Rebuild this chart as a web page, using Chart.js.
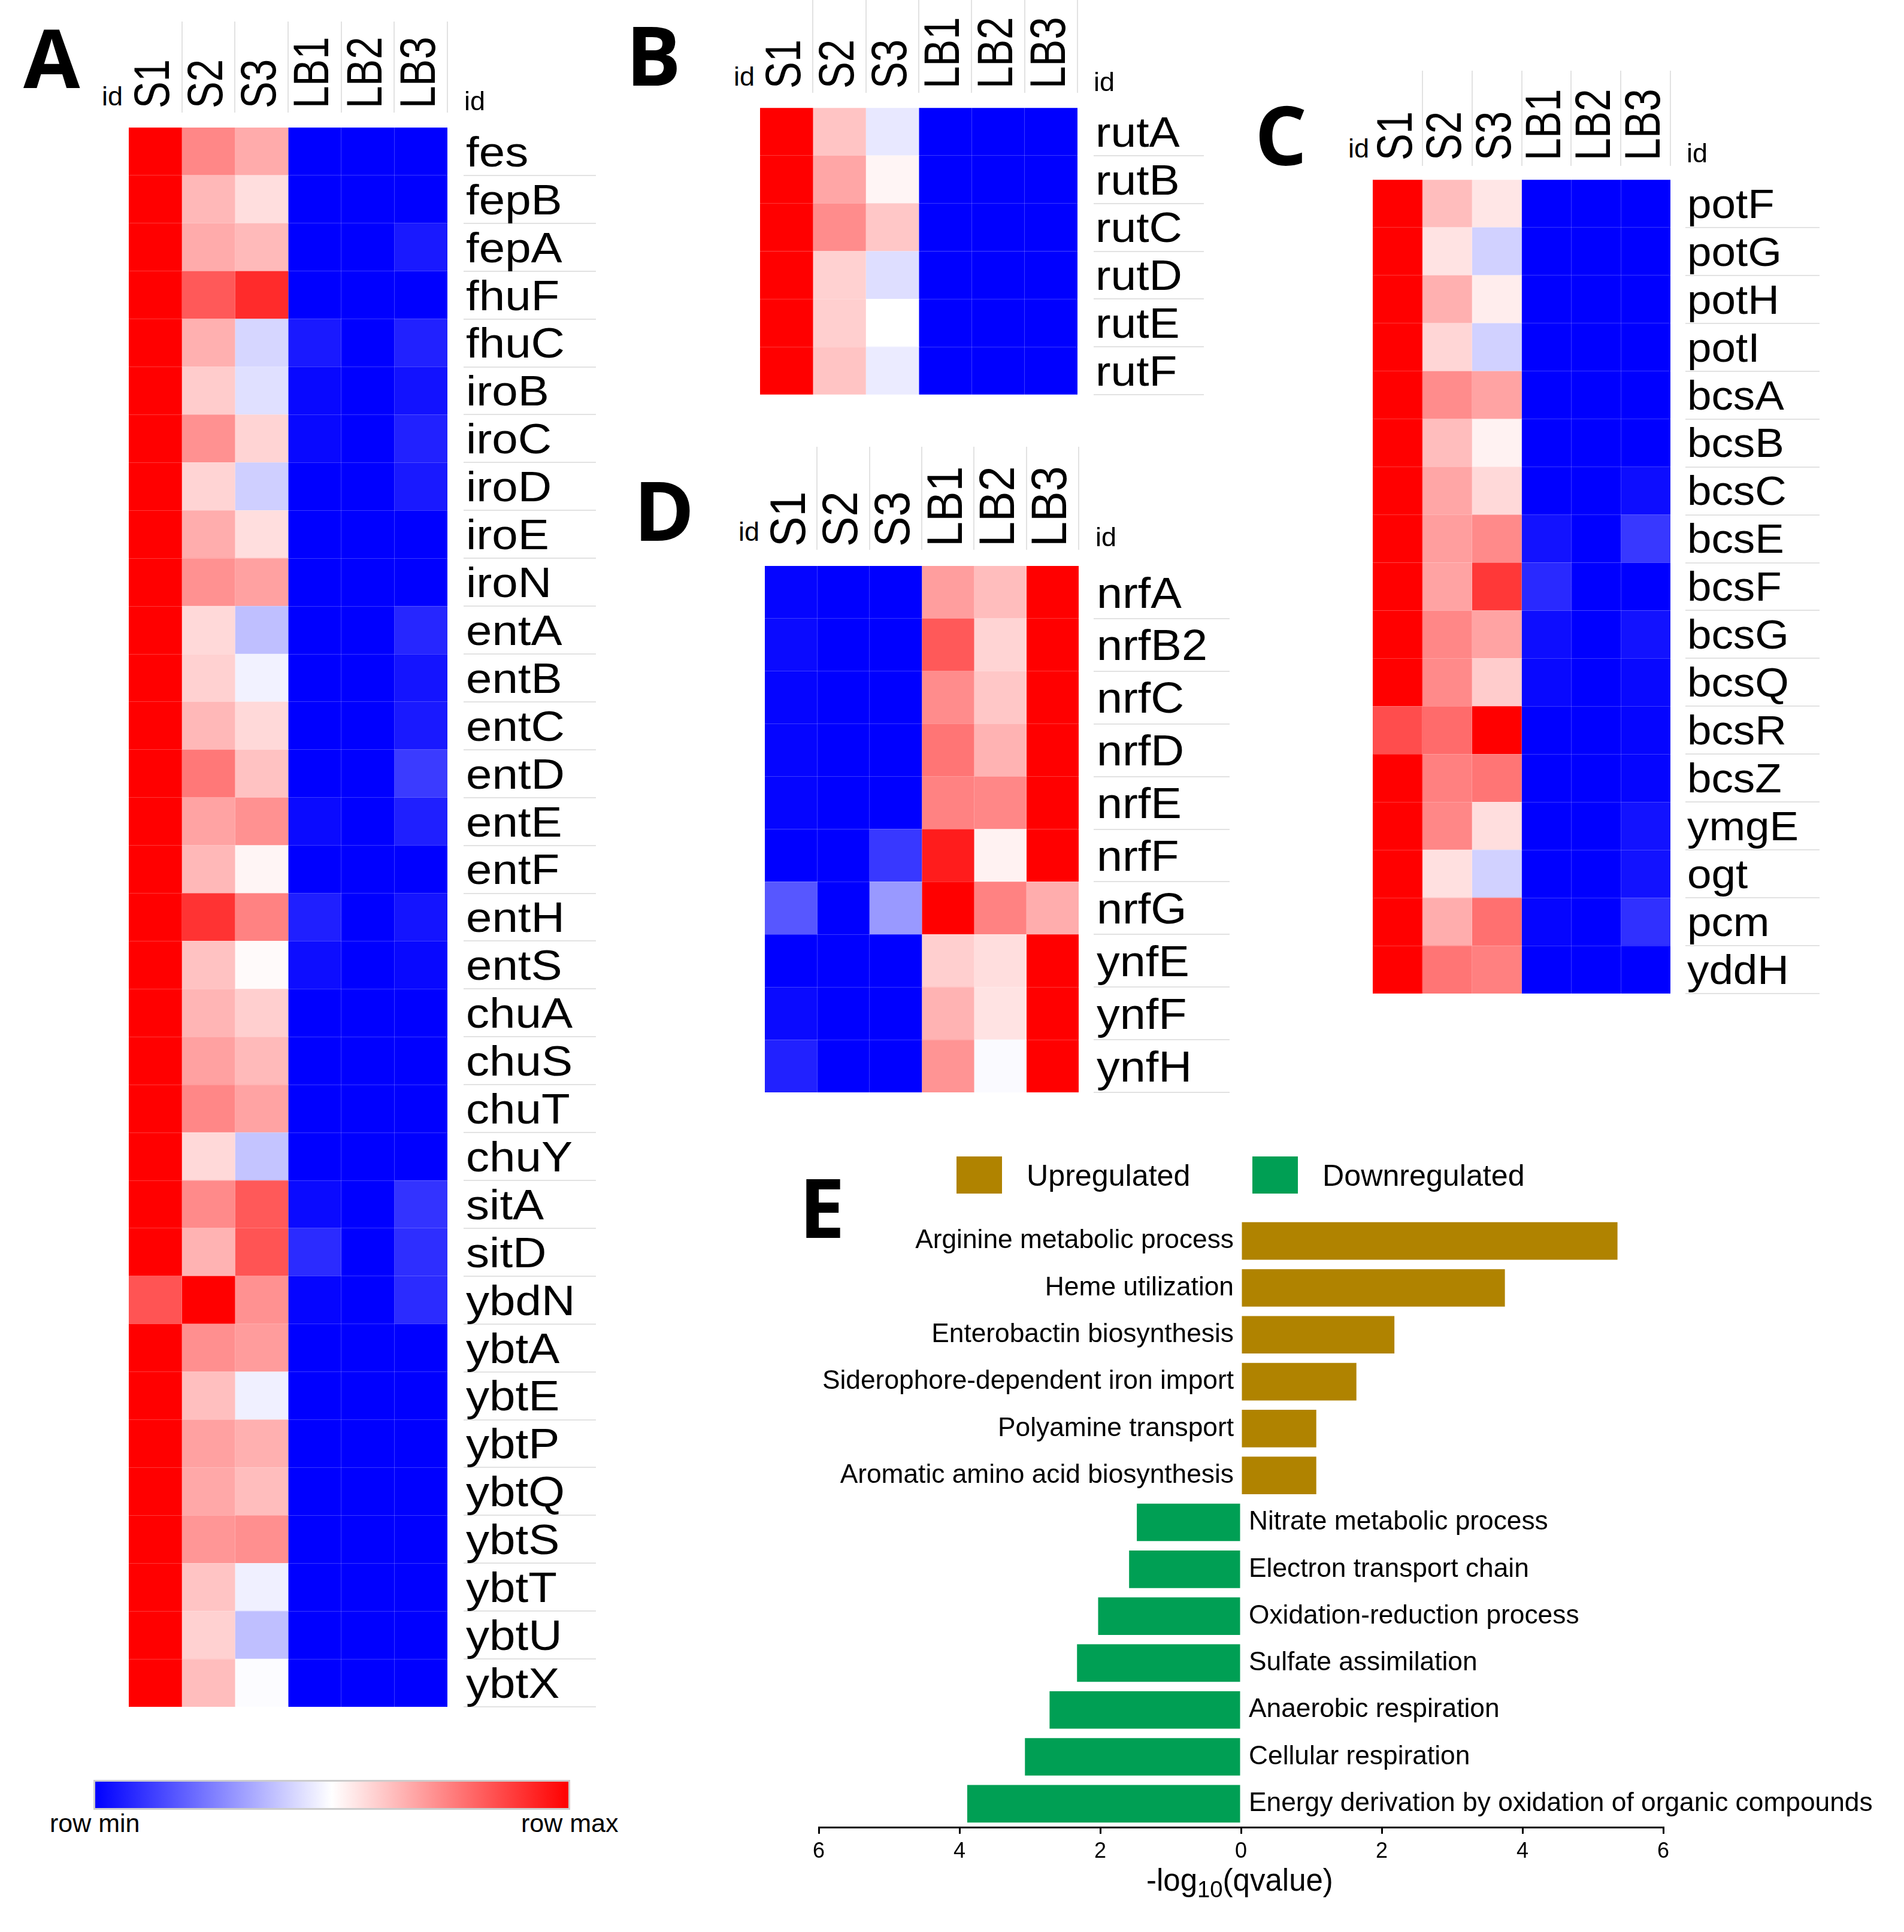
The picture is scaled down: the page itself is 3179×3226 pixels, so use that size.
<!DOCTYPE html>
<html>
<head>
<meta charset="utf-8">
<title>Heatmaps and enrichment</title>
<script src="https://cdn.jsdelivr.net/npm/chart.js@4"></script>
<style>
    html, body { margin: 0; padding: 0; background: #fff; width: 3179px; height: 3226px; overflow: hidden; }
    canvas { position: absolute; }
    .txt { position: absolute; white-space: nowrap; line-height: 0; color: #000; font-family: "Liberation Sans", Arial, sans-serif; }
    .letter { font-family: "Open Sans", sans-serif; font-weight: 700; font-size: 137px; }
    sub { font-size: 75%; line-height: 0; vertical-align: -0.3em; }
    #color-key { position: absolute; left: 156px; top: 2972px; width: 790px; height: 44px; border: 3px solid #ccc;
        background: linear-gradient(to right, #0000ff, #ffffff 50%, #ff0000); }
    .key-box { position: absolute; top: 1931px; width: 76px; height: 62px; }
</style>
</head>
<body>
<script>
const columns = ['S1', 'S2', 'S3', 'LB1', 'LB2', 'LB3'];

// row-scaled expression, -1 = row min, 1 = row max
const genesA = ['fes', 'fepB', 'fepA', 'fhuF', 'fhuC', 'iroB', 'iroC', 'iroD', 'iroE', 'iroN', 'entA', 'entB', 'entC', 'entD', 'entE', 'entF', 'entH', 'entS', 'chuA', 'chuS', 'chuT', 'chuY', 'sitA', 'sitD', 'ybdN', 'ybtA', 'ybtE', 'ybtP', 'ybtQ', 'ybtS', 'ybtT', 'ybtU', 'ybtX'];
const heatA = [
    [1, .47, .33, -1, -1, -1],
    [1, .28, .13, -1, -1, -1],
    [1, .33, .27, -1, -1, -.9],
    [1, .65, .83, -1, -1, -1],
    [1, .31, -.16, -.9, -1, -.87],
    [1, .2, -.12, -.97, -1, -.93],
    [1, .43, .17, -.97, -1, -.87],
    [1, .17, -.19, -1, -1, -.9],
    [1, .32, .13, -1, -1, -1],
    [1, .43, .37, -1, -1, -1],
    [1, .15, -.25, -1, -1, -.85],
    [1, .18, -.05, -1, -1, -.92],
    [1, .28, .15, -1, -1, -.9],
    [1, .53, .24, -1, -1, -.77],
    [1, .36, .43, -.96, -1, -.88],
    [1, .28, .04, -1, -1, -1],
    [1, .8, .49, -.88, -1, -.92],
    [1, .24, .02, -.95, -1, -.97],
    [1, .29, .19, -1, -1, -1],
    [1, .37, .27, -1, -1, -1],
    [1, .47, .36, -1, -1, -1],
    [1, .15, -.23, -1, -1, -1],
    [1, .46, .65, -.96, -1, -.8],
    [1, .3, .67, -.83, -1, -.82],
    [.67, 1, .43, -.98, -1, -.83],
    [1, .44, .39, -1, -1, -1],
    [1, .25, -.06, -1, -1, -1],
    [1, .37, .31, -1, -1, -1],
    [1, .34, .26, -1, -1, -1],
    [1, .41, .44, -1, -1, -1],
    [1, .23, -.06, -1, -1, -1],
    [1, .18, -.25, -1, -1, -1],
    [1, .26, -.01, -1, -1, -1]
];

const genesB = ['rutA', 'rutB', 'rutC', 'rutD', 'rutE', 'rutF'];
const heatB = [
    [1, .23, -.09, -1, -1, -1],
    [1, .35, .04, -1, -1, -1],
    [1, .45, .22, -1, -1, -1],
    [1, .18, -.13, -1, -1, -1],
    [1, .19, 0, -1, -1, -1],
    [1, .23, -.08, -1, -1, -1]
];

const genesC = ['potF', 'potG', 'potH', 'potI', 'bcsA', 'bcsB', 'bcsC', 'bcsE', 'bcsF', 'bcsG', 'bcsQ', 'bcsR', 'bcsZ', 'ymgE', 'ogt', 'pcm', 'yddH'];
const heatC = [
    [1, .26, .1, -1, -1, -1],
    [1, .11, -.18, -1, -1, -1],
    [1, .31, .07, -1, -1, -1],
    [1, .16, -.18, -1, -1, -1],
    [1, .45, .36, -1, -1, -1],
    [1, .26, .05, -1, -1, -1],
    [1, .35, .15, -1, -1, -.95],
    [1, .38, .46, -.93, -1, -.78],
    [1, .36, .78, -.84, -1, -1],
    [1, .47, .36, -.95, -1, -.93],
    [1, .46, .2, -.97, -1, -.97],
    [.7, .58, 1, -1, -1, -.98],
    [1, .5, .54, -1, -1, -.98],
    [1, .47, .13, -1, -1, -.93],
    [1, .12, -.18, -1, -1, -.93],
    [1, .32, .56, -.98, -1, -.81],
    [1, .54, .5, -1, -1, -1]
];

const genesD = ['nrfA', 'nrfB2', 'nrfC', 'nrfD', 'nrfE', 'nrfF', 'nrfG', 'ynfE', 'ynfF', 'ynfH'];
const heatD = [
    [-.98, -1, -1, .38, .26, 1],
    [-.96, -1, -1, .65, .17, 1],
    [-.98, -1, -1, .45, .22, 1],
    [-.98, -1, -1, .54, .3, 1],
    [-.98, -1, -1, .49, .47, 1],
    [-1, -1, -.78, .89, .05, 1],
    [-.66, -1, -.4, 1, .49, .32],
    [-1, -1, -1, .19, .13, 1],
    [-.96, -1, -1, .3, .11, 1],
    [-.87, -1, -1, .42, -.02, 1]
];

const terms = ['Arginine metabolic process', 'Heme utilization', 'Enterobactin biosynthesis', 'Siderophore-dependent iron import', 'Polyamine transport', 'Aromatic amino acid biosynthesis', 'Nitrate metabolic process', 'Electron transport chain', 'Oxidation-reduction process', 'Sulfate assimilation', 'Anaerobic respiration', 'Cellular respiration', 'Energy derivation by oxidation of organic compounds'];
const upValues = [5.35, 3.75, 2.18, 1.64, 1.07, 1.07, null, null, null, null, null, null, null];
const downValues = [null, null, null, null, null, null, -1.48, -1.59, -2.03, -2.33, -2.72, -3.07, -3.89];
const axisTicks = [-6, -4, -2, 0, 2, 4, 6];

const SANS = '"Liberation Sans", Arial, sans-serif';

function heatColor(v) {
    const c = Math.round(255 * (1 - Math.abs(v)));
    return v >= 0 ? `rgb(255,${c},${c})` : `rgb(${c},${c},255)`;
}

function addText(html, left, baseline, size, cls) {
    const d = document.createElement('div');
    d.className = 'txt ' + (cls || '');
    d.innerHTML = html;
    d.style.left = left + 'px';
    d.style.fontSize = size + 'px';
    // line-height 0 puts the line centre at "top", baseline sits about .35em below it
    d.style.top = (baseline - (cls === 'letter' ? .388 : .3465) * size) + 'px';
    document.body.appendChild(d);
}

function addCanvas(left, top, width, height) {
    const c = document.createElement('canvas');
    c.width = width;
    c.height = height;
    c.style.left = left + 'px';
    c.style.top = top + 'px';
    c.style.width = width + 'px';
    c.style.height = height + 'px';
    document.body.appendChild(c);
    return c;
}

// light rules above the sample names and under the gene names, plus both sets of
// names. The figure's text was resized unevenly, so it is stretched here as well.
const headPlugin = {
    id: 'head',
    afterDraw(chart, args, opts) {
        const { ctx } = chart;
        const x = chart.scales.x, y = chart.scales.y, samples = chart.scales.samples;
        ctx.save();
        ctx.strokeStyle = '#e2e2e2';
        ctx.lineWidth = 2;
        ctx.beginPath();
        for (let i = 1; i <= columns.length; i++) {
            const px = Math.round(x.getPixelForValue(i));
            ctx.moveTo(px, 0);
            ctx.lineTo(px, opts.headBottom);
        }
        const band = (y.bottom - y.top) / opts.genes.length;
        for (let i = 1; i <= opts.genes.length; i++) {
            const py = Math.round(y.top + band * i);
            ctx.moveTo(opts.ruleLeft, py);
            ctx.lineTo(chart.width, py);
        }
        ctx.stroke();

        ctx.fillStyle = '#000';
        ctx.textAlign = 'left';
        ctx.textBaseline = 'middle';
        ctx.font = '84px ' + SANS;
        columns.forEach((name, i) => {
            ctx.save();
            ctx.translate(samples.getPixelForValue(i), y.top - 32);
            ctx.rotate(-Math.PI / 2);
            ctx.scale(opts.nameStretch, 1);
            ctx.fillText(name, 0, 0);
            ctx.restore();
        });

        ctx.textBaseline = 'alphabetic';
        ctx.font = opts.geneFont + 'px ' + SANS;
        opts.genes.forEach((gene, i) => {
            ctx.save();
            ctx.translate(opts.labelLeft, y.getPixelForValue(i) + .35 * opts.geneFont);
            ctx.scale(opts.geneStretch, 1);
            ctx.fillText(gene, 0, 0);
            ctx.restore();
        });
        ctx.restore();
    }
};

function drawHeatmap(genes, heat, p) {
    const canvas = addCanvas(p.left, p.lineTop, p.ruleRight - p.left, p.bottom - p.lineTop + 4);
    const datasets = columns.map((name, c) => ({
        label: name,
        data: genes.map(() => 1),
        backgroundColor: heat.map(row => heatColor(row[c])),
        barPercentage: 1,
        categoryPercentage: 1,
        borderWidth: 0
    }));
    new Chart(canvas, {
        type: 'bar',
        data: { labels: genes, datasets: datasets },
        plugins: [headPlugin],
        options: {
            indexAxis: 'y',
            responsive: false,
            animation: false,
            devicePixelRatio: 1,
            layout: { autoPadding: false, padding: { bottom: 4 } },
            plugins: {
                legend: { display: false },
                tooltip: { enabled: false },
                head: {
                    genes: genes,
                    headBottom: p.lineBottom - p.lineTop,
                    ruleLeft: p.ruleLeft - p.left,
                    labelLeft: p.labelLeft - p.left,
                    nameStretch: p.nameStretch,
                    geneFont: p.geneFont,
                    geneStretch: p.geneStretch
                }
            },
            scales: {
                x: { type: 'linear', stacked: true, min: 0, max: 6, display: false },
                // only there to place the sample names along the top
                samples: {
                    type: 'category',
                    axis: 'x',
                    position: 'top',
                    labels: columns,
                    offset: true,
                    afterFit(s) { s.height = p.top - p.lineTop; },
                    border: { display: false },
                    grid: { z: 1, offset: true, color: 'rgba(255,255,255,0.22)', lineWidth: 1, drawTicks: false },
                    ticks: { display: false }
                },
                y: {
                    type: 'category',
                    stacked: true,
                    position: 'right',
                    offset: true,
                    afterFit(s) { s.width = p.ruleRight - p.right; },
                    border: { display: false },
                    grid: { z: 1, offset: true, color: 'rgba(255,255,255,0.22)', lineWidth: 1, drawTicks: false },
                    ticks: { display: false }
                }
            }
        }
    });
    addText('id', p.idLeft, p.idLeftBase, 45);
    addText('id', p.idRight, p.idRightBase, 45);
}

drawHeatmap(genesA, heatA, { left: 215, right: 747, top: 213, bottom: 2850, lineTop: 36, lineBottom: 188, ruleLeft: 774, ruleRight: 995, labelLeft: 778, idLeft: 170, idLeftBase: 177, idRight: 775, idRightBase: 185, nameStretch: .8, geneFont: 71, geneStretch: 1.1 });
drawHeatmap(genesB, heatB, { left: 1269, right: 1799, top: 180, bottom: 659, lineTop: 0, lineBottom: 155, ruleLeft: 1826, ruleRight: 2010, labelLeft: 1829, idLeft: 1225, idLeftBase: 144, idRight: 1826, idRightBase: 153, nameStretch: .8, geneFont: 71, geneStretch: 1.08 });
drawHeatmap(genesC, heatC, { left: 2292, right: 2789, top: 300, bottom: 1659, lineTop: 118, lineBottom: 277, ruleLeft: 2814, ruleRight: 3038, labelLeft: 2817, idLeft: 2251, idLeftBase: 264, idRight: 2816, idRightBase: 272, nameStretch: .8, geneFont: 68, geneStretch: 1.07 });
drawHeatmap(genesD, heatD, { left: 1277, right: 1801, top: 945, bottom: 1824, lineTop: 746, lineBottom: 918, ruleLeft: 1826, ruleRight: 2053, labelLeft: 1831, idLeft: 1233, idLeftBase: 904, idRight: 1829, idRightBase: 913, nameStretch: .9, geneFont: 73, geneStretch: 1.06 });

// panel letters
addText('A', 39, 147, 137, 'letter');
addText('B', 1045, 143, 137, 'letter');
addText('C', 2095, 276, 137, 'letter');
addText('D', 1058, 903, 137, 'letter');
addText('E', 1334, 2067, 137, 'letter');

// colour key
const key = document.createElement('div');
key.id = 'color-key';
document.body.appendChild(key);
addText('row min', 83, 3059, 43);
addText('row max', 870, 3059, 43);

// panel E: term names sit next to the zero line, on the far side from the bar
const termLabels = {
    id: 'termLabels',
    afterDraw(chart) {
        const { ctx } = chart;
        const zero = chart.scales.x.getPixelForValue(0);
        ctx.save();
        ctx.font = '44.3px ' + SANS;
        ctx.fillStyle = '#000';
        ctx.textBaseline = 'middle';
        terms.forEach((term, i) => {
            const py = chart.scales.y.getPixelForValue(i);
            const isUp = upValues[i] !== null;
            ctx.textAlign = isUp ? 'right' : 'left';
            ctx.fillText(term, isUp ? zero - 12 : zero + 13, py);
        });
        ctx.restore();
    }
};

const enrichCanvas = addCanvas(1300, 1990, 1879, 1236);
const enrichSets = [
    { label: 'Upregulated', data: upValues, backgroundColor: '#b08300' },
    { label: 'Downregulated', data: downValues, backgroundColor: '#009f54' }
];
new Chart(enrichCanvas, {
    type: 'bar',
    data: {
        labels: terms,
        datasets: enrichSets.map(s => Object.assign({ barPercentage: .8, categoryPercentage: 1, grouped: false }, s))
    },
    plugins: [termLabels],
    options: {
        indexAxis: 'y',
        responsive: false,
        animation: false,
        devicePixelRatio: 1,
        layout: { autoPadding: false, padding: { left: 67, right: 402, top: 43 } },
        plugins: { legend: { display: false }, tooltip: { enabled: false } },
        scales: {
            x: {
                type: 'linear',
                min: -6,
                max: 6,
                afterFit(s) { s.height = 175; },
                afterBuildTicks(s) { s.ticks = axisTicks.map(v => ({ value: v })); },
                border: { color: '#000', width: 3 },
                grid: { drawOnChartArea: false, color: '#000', lineWidth: 3, tickLength: 11 },
                ticks: {
                    color: '#000',
                    font: { family: SANS, size: 36 },
                    padding: 8,
                    maxRotation: 0,
                    callback: v => Math.abs(v)
                }
            },
            y: { type: 'category', display: false, offset: true }
        }
    }
});

// legend built by hand so the spacing can follow the figure
enrichSets.forEach((s, i) => {
    const box = document.createElement('div');
    box.className = 'key-box';
    box.style.left = [1597, 2091][i] + 'px';
    box.style.background = s.backgroundColor;
    document.body.appendChild(box);
    addText(s.label, [1714, 2208][i], 1980, 50.2);
});

addText('-log<sub>10</sub>(qvalue)', 1914, 3158, 51);
</script>
</body>
</html>
